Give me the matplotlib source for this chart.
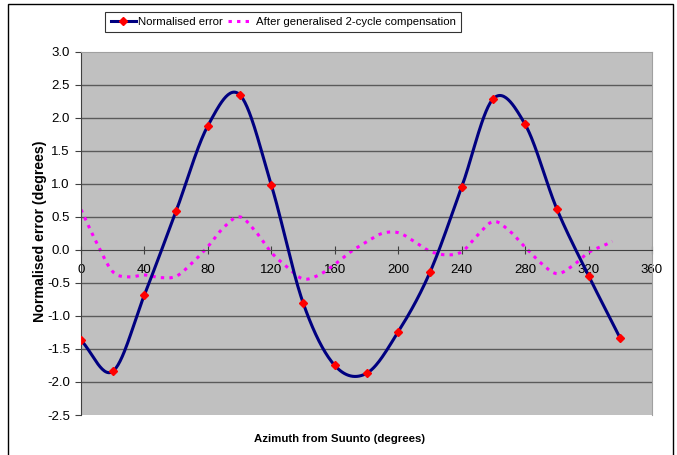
import numpy as np
import matplotlib
matplotlib.use("Agg")
import matplotlib.pyplot as plt
from matplotlib.patches import Rectangle
from matplotlib.lines import Line2D
from matplotlib.font_manager import FontProperties

plt.rcParams['font.family'] = ['Liberation Sans', 'DejaVu Sans']

# ---- data ----
azimuth = [0, 20, 40, 60, 80, 100, 120, 140, 160, 180, 200, 220, 240, 260, 280, 300, 320, 340]
normalised_error = [-1.37, -1.84, -0.68, 0.59, 1.88, 2.35, 0.98, -0.80, -1.75, -1.87,
                    -1.24, -0.34, 0.95, 2.29, 1.90, 0.62, -0.39, -1.34]

comp_azimuth = [0, 10, 20, 30, 40, 50, 60, 70, 80, 90, 100, 110, 120, 130, 140, 150, 160,
                170, 180, 190, 200, 210, 220, 230, 240, 250, 260, 270, 280, 290, 300, 310,
                320, 330, 335]
compensated = [0.61, 0.10, -0.33, -0.41, -0.38, -0.42, -0.40, -0.20, 0.05, 0.34, 0.50,
               0.28, -0.04, -0.26, -0.44, -0.38, -0.22, -0.03, 0.12, 0.25, 0.26, 0.13,
               -0.02, -0.075, -0.03, 0.22, 0.43, 0.29, 0.04, -0.20, -0.36, -0.24, -0.04,
               0.07, 0.13]

x_ticks = [0, 40, 80, 120, 160, 200, 240, 280, 320, 360]
y_ticks = [-2.5, -2.0, -1.5, -1.0, -0.5, 0.0, 0.5, 1.0, 1.5, 2.0, 2.5, 3.0]


def smooth(xs, ys, n=30):
    """Catmull-Rom style smoothing for drawing (like Excel's smoothed line)."""
    xs = np.asarray(xs, float)
    ys = np.asarray(ys, float)
    px = np.concatenate([[2 * xs[0] - xs[1]], xs, [2 * xs[-1] - xs[-2]]])
    py = np.concatenate([[2 * ys[0] - ys[1]], ys, [2 * ys[-1] - ys[-2]]])
    ox, oy = [], []
    t = np.linspace(0, 1, n, endpoint=False)
    for i in range(1, len(px) - 2):
        p0x, p1x, p2x, p3x = px[i - 1], px[i], px[i + 1], px[i + 2]
        p0y, p1y, p2y, p3y = py[i - 1], py[i], py[i + 1], py[i + 2]
        c1x = p1x + (p2x - p0x) / 6
        c1y = p1y + (p2y - p0y) / 6
        c2x = p2x - (p3x - p1x) / 6
        c2y = p2y - (p3y - p1y) / 6
        b0 = (1 - t) ** 3
        b1 = 3 * (1 - t) ** 2 * t
        b2 = 3 * (1 - t) * t ** 2
        b3 = t ** 3
        ox.append(b0 * p1x + b1 * c1x + b2 * c2x + b3 * p2x)
        oy.append(b0 * p1y + b1 * c1y + b2 * c2y + b3 * p2y)
    ox.append([xs[-1]])
    oy.append([ys[-1]])
    return np.concatenate(ox), np.concatenate(oy)


fig = plt.figure(figsize=(6.77, 4.55), dpi=100)
fig.patch.set_facecolor('white')
fig.patches.append(Rectangle((8 / 677, -0.01), 665 / 677, 1 - 4 / 455 + 0.01, transform=fig.transFigure,
                             fill=False, edgecolor='black', linewidth=1.0))

ax = fig.add_axes([81 / 677, 1 - 415 / 455, (652 - 81) / 677, (415 - 51.7) / 455])
ax.set_facecolor('#C0C0C0')
ax.set_xlim(0, 360)
ax.set_ylim(-2.5, 3.0)

for yv in y_ticks:
    if yv != 0.0 and yv not in (-2.5, 3.0):
        ax.axhline(yv, color='#5a5a5a', linewidth=1.0, zorder=1)

dash = (0, (1.1, 1.7))
bx, by = smooth(azimuth, normalised_error)
ax.plot(bx, by, color='#000080', linewidth=2.2, zorder=3)
ax.plot(azimuth, normalised_error, linestyle='none', marker='D', markersize=4,
        color='#FF0000', markeredgecolor='#FF0000', zorder=4)

mx, my = smooth(comp_azimuth, compensated)
ax.plot(mx, my, color='#FF00FF', linewidth=2.2, linestyle=dash, zorder=2)

ax.spines['bottom'].set_position(('data', 0))
ax.spines['bottom'].set_color('#404040')
ax.spines['left'].set_color('#404040')
ax.spines['top'].set_color('#a0a0a0')
ax.spines['right'].set_color('#a0a0a0')

ax.set_xticks(x_ticks)
ax.set_xticklabels([str(v) for v in x_ticks])
ax.set_yticks(y_ticks)
ax.set_yticklabels([f"{v:.1f}" for v in y_ticks])
ax.tick_params(axis='x', direction='inout', length=6, pad=7, labelsize=9.5, colors='#404040',
               labelcolor='black')
ax.tick_params(axis='y', direction='out', length=4, pad=4, labelsize=9.5, colors='#404040',
               labelcolor='black')

fig.text(340 / 677, 1 - 439 / 455, 'Azimuth from Suunto (degrees)', ha='center', va='center',
         fontsize=8.2, fontweight='bold')
fig.text(40 / 677, 1 - 231 / 455, 'Normalised error (degrees)', ha='center', va='center',
         rotation=90, fontsize=10.2, fontweight='bold')

handles = [
    Line2D([], [], color='#000080', linewidth=2.2, marker='D', markersize=4,
           markerfacecolor='#FF0000', markeredgecolor='#FF0000'),
    Line2D([], [], color='#FF00FF', linewidth=2.2, linestyle=dash),
]
leg = fig.legend(handles, ['Normalised error', 'After generalised 2-cycle compensation'],
                 loc='center', bbox_to_anchor=(283 / 677, 1 - 22 / 455), ncol=2,
                 prop=FontProperties(size=8.2), frameon=True,
                 fancybox=False, edgecolor='black',
                 handlelength=2.2, handletextpad=0.25, columnspacing=0.4,
                 borderpad=0.45, borderaxespad=0)
leg.get_frame().set_linewidth(0.8)

fig.savefig('out.png', dpi=100, facecolor='white')
